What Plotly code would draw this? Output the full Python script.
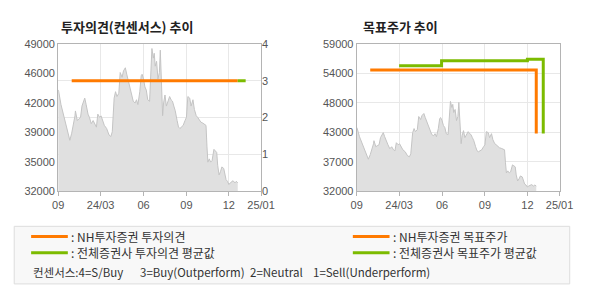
import plotly.graph_objects as go

# ---------------- data ----------------
price_dates = [
    "2023-12-01", "2023-12-02", "2023-12-07", "2023-12-11", "2023-12-14", "2023-12-18", "2023-12-21",
    "2023-12-24", "2023-12-26", "2023-12-30", "2024-01-02", "2024-01-06", "2024-01-07", "2024-01-11",
    "2024-01-14", "2024-01-18", "2024-01-21", "2024-01-27", "2024-01-30", "2024-02-03", "2024-02-06",
    "2024-02-10", "2024-02-14", "2024-02-18", "2024-02-21", "2024-02-24", "2024-02-28", "2024-03-02",
    "2024-03-05", "2024-03-09", "2024-03-14", "2024-03-19", "2024-03-23", "2024-03-26", "2024-03-30",
    "2024-04-02", "2024-04-05", "2024-04-09", "2024-04-12", "2024-04-16", "2024-04-19", "2024-04-23",
    "2024-04-26", "2024-04-30", "2024-05-03", "2024-05-07", "2024-05-10", "2024-05-14", "2024-05-17",
    "2024-05-20", "2024-05-24", "2024-05-27", "2024-05-29", "2024-06-01", "2024-06-04", "2024-06-07",
    "2024-06-10", "2024-06-14", "2024-06-17", "2024-06-19", "2024-06-22", "2024-06-24", "2024-06-26",
    "2024-06-29", "2024-07-02", "2024-07-05", "2024-07-07", "2024-07-09", "2024-07-12", "2024-07-14",
    "2024-07-17", "2024-07-20", "2024-07-23", "2024-07-27", "2024-07-30", "2024-08-02", "2024-08-05",
    "2024-08-08", "2024-08-12", "2024-08-15", "2024-08-18", "2024-08-22", "2024-08-25", "2024-08-29",
    "2024-09-01", "2024-09-04", "2024-09-08", "2024-09-11", "2024-09-15", "2024-09-18", "2024-09-22",
    "2024-09-25", "2024-09-29", "2024-10-02", "2024-10-06", "2024-10-09", "2024-10-13", "2024-10-15",
    "2024-10-17", "2024-10-20", "2024-10-23", "2024-10-26", "2024-10-30", "2024-11-02", "2024-11-05",
    "2024-11-07", "2024-11-10", "2024-11-13", "2024-11-16", "2024-11-20", "2024-11-22", "2024-11-25",
    "2024-11-28", "2024-12-01", "2024-12-04", "2024-12-07", "2024-12-10", "2024-12-14", "2024-12-17",
    "2024-12-20",
]
price_values = [
    43700, 43550, 42000, 41100, 40700, 39800, 38870,
    38300, 37880, 38700, 39400, 40700, 41270, 40160,
    40340, 40530, 41830, 42750, 42000, 40900, 40530,
    39800, 40160, 39600, 39400, 40900, 40530, 40700,
    40160, 39600, 39240, 38500, 38320, 38870, 42750,
    43490, 42930, 43300, 45700, 45150, 45880, 46250,
    45510, 44590, 43670, 42750, 42380, 42190, 42560,
    42000, 43490, 45330, 45500, 44960, 44040, 43670,
    42560, 42380, 45700, 48470, 47360, 47920, 46430,
    46990, 44960, 45700, 48280, 45330, 40720, 42190,
    43110, 41830, 42380, 42930, 42560, 42400, 41830,
    41300, 40160, 39420, 39240, 39420, 39600, 40160,
    40530, 42930, 42750, 41830, 42560, 41450, 40720,
    40530, 40230, 39980, 39870, 39720, 39600, 37210,
    35360, 35740, 35360, 35550, 36840, 36660, 36470,
    35000, 33890, 34260, 34810, 34630, 33890, 33340,
    33150, 32780, 32970, 33150, 33220, 32970, 33150,
    32970,
]

# consensus (investment opinion) lines
nh_opinion_dates = ["2023-12-30", "2024-12-20"]
nh_opinion_values = [3, 3]
all_opinion_dates = ["2024-12-20", "2025-01-06"]
all_opinion_values = [3, 3]

# target price lines
nh_target_dates = ["2023-12-30", "2024-12-20", "2024-12-20"]
nh_target_values = [54200, 54200, 42600]
all_target_dates = ["2024-03-01", "2024-05-31", "2024-12-01", "2025-01-04", "2025-01-04"]
all_target_values = [55000, 55900, 56200, 56200, 42600]

x_tick_dates = ["2023-12-01", "2024-03-01", "2024-06-01", "2024-09-01", "2024-12-01", "2025-02-08"]
x_tick_text = ["09", "24/03", "06", "09", "12", "25/01"]
x_range = ["2023-12-01", "2025-02-08"]

left_price_range = [32000, 49000]
right_price_range = [32000, 59000]
opinion_ticks = [0, 1, 2, 3, 4]

legend_items = [": NH투자증권 투자의견", ": 전체증권사 투자의견 평균값",
                ": NH투자증권 목표주가", ": 전체증권사 목표주가 평균값"]
consensus_parts = ["컨센서스:4=S/Buy", "3=Buy(Outperform)", "2=Neutral", "1=Sell(Underperform)"]

# ---------------- styles ----------------
ORANGE = "#ff7a00"
GREEN = "#7cbb00"
AREA = "#e0e0e0"
AREA_LINE = "#c4c4c4"
FRAME = "#b4b4b4"
GRID = "#e8e8e8"
TXT = "#555555"
TICKFONT = dict(family="Liberation Sans, Arial, sans-serif", size=11, color=TXT)


def even_ticks(rng, n=5):
    step = (rng[1] - rng[0]) / n
    vals = [rng[0] + step * i for i in range(n + 1)]
    text = [str(int(round(v / 1000.0)) * 1000) for v in vals]
    return vals, text


lv, lt = even_ticks(left_price_range)
rv, rt = even_ticks(right_price_range)

fig = go.Figure()

# left chart
fig.add_trace(go.Scatter(x=price_dates, y=price_values, mode="lines", fill="tozeroy",
                         fillcolor=AREA, line=dict(color=AREA_LINE, width=1),
                         xaxis="x", yaxis="y", hoverinfo="skip"))
fig.add_trace(go.Scatter(x=nh_opinion_dates, y=nh_opinion_values, mode="lines",
                         line=dict(color=ORANGE, width=3), xaxis="x", yaxis="y2"))
fig.add_trace(go.Scatter(x=all_opinion_dates, y=all_opinion_values, mode="lines",
                         line=dict(color=GREEN, width=3), xaxis="x", yaxis="y2"))

# right chart
fig.add_trace(go.Scatter(x=price_dates, y=price_values, mode="lines", fill="tozeroy",
                         fillcolor=AREA, line=dict(color=AREA_LINE, width=1),
                         xaxis="x2", yaxis="y3", hoverinfo="skip"))
fig.add_trace(go.Scatter(x=nh_target_dates, y=nh_target_values, mode="lines", line_shape="hv",
                         line=dict(color=ORANGE, width=3), xaxis="x2", yaxis="y3"))
fig.add_trace(go.Scatter(x=all_target_dates, y=all_target_values, mode="lines", line_shape="hv",
                         line=dict(color=GREEN, width=3), xaxis="x2", yaxis="y3"))

W, H = 590, 300
ydom = [(H - 193) / H, (H - 39.5) / H]

xcommon = dict(type="date", range=x_range, tickmode="array", tickvals=x_tick_dates,
               ticktext=x_tick_text, showgrid=True, gridcolor=GRID, gridwidth=1,
               showline=True, linecolor=FRAME, linewidth=1, mirror=True,
               ticks="outside", ticklen=4, tickcolor=FRAME, tickfont=TICKFONT,
               zeroline=False, fixedrange=True)

fig.update_layout(
    width=W, height=H, margin=dict(l=0, r=0, t=0, b=0),
    paper_bgcolor="white", plot_bgcolor="white", showlegend=False,
    xaxis=dict(domain=[54 / W, 264 / W], anchor="y", **xcommon),
    yaxis=dict(domain=ydom, range=left_price_range, tickmode="array", tickvals=lv, ticktext=lt,
               showgrid=False, showline=True, linecolor=FRAME, mirror=True, ticks="",
               tickfont=TICKFONT, zeroline=False, anchor="x"),
    yaxis2=dict(range=[0, 4], overlaying="y", side="right", anchor="x", tickmode="array",
                tickvals=opinion_ticks, showgrid=True, gridcolor=GRID, showline=False,
                ticks="", tickfont=TICKFONT, zeroline=False),
    xaxis2=dict(domain=[363 / W, 573 / W], anchor="y3", **xcommon),
    yaxis3=dict(domain=ydom, range=right_price_range, tickmode="array", tickvals=rv, ticktext=rt,
                showgrid=True, gridcolor=GRID, showline=True, linecolor=FRAME, mirror=True,
                ticks="", tickfont=TICKFONT, zeroline=False, anchor="x2"),
)

# titles
TITLEFONT = dict(family="Noto Sans CJK KR, sans-serif", size=13, color="#222222")
fig.add_annotation(text="<b>투자의견(컨센서스) 추이</b>", x=55 / W, y=(H - 21) / H, xref="paper", yref="paper",
                   xanchor="left", yanchor="middle", showarrow=False, font=TITLEFONT)
fig.add_annotation(text="<b>목표주가 추이</b>", x=367 / W, y=(H - 21) / H, xref="paper", yref="paper",
                   xanchor="left", yanchor="middle", showarrow=False, font=TITLEFONT)

# legend box
fig.add_shape(type="rect", xref="paper", yref="paper", x0=8.5 / W, x1=583.5 / W,
              y0=(H - 289.5) / H, y1=(H - 229.5) / H, line=dict(color="#dddddd", width=1),
              fillcolor="#f8f8f8", layer="below")
LEGFONT = dict(family="Noto Sans CJK KR, sans-serif", size=12, color="#333333")
NOTEFONT = dict(family="Noto Sans CJK KR, sans-serif", size=11.5, color="#333333")
leg_pos = [(26, 240, ORANGE), (26, 257, GREEN), (359, 240, ORANGE), (359, 257, GREEN)]
for (lx, ly, col), label in zip(leg_pos, legend_items):
    fig.add_shape(type="line", xref="paper", yref="paper", x0=lx / W, x1=(lx + 38) / W,
                  y0=(H - ly) / H, y1=(H - ly) / H, line=dict(color=col, width=3))
    fig.add_annotation(text=label, x=(lx + 39) / W, y=(H - ly) / H, xref="paper", yref="paper",
                       xanchor="left", yanchor="middle", showarrow=False, font=LEGFONT)
for px, part in zip([26, 137, 251, 316], consensus_parts):
    fig.add_annotation(text=part, x=px / W, y=(H - 277) / H, xref="paper", yref="paper",
                       xanchor="left", yanchor="middle", showarrow=False, font=NOTEFONT)

fig.write_html("out.html")
